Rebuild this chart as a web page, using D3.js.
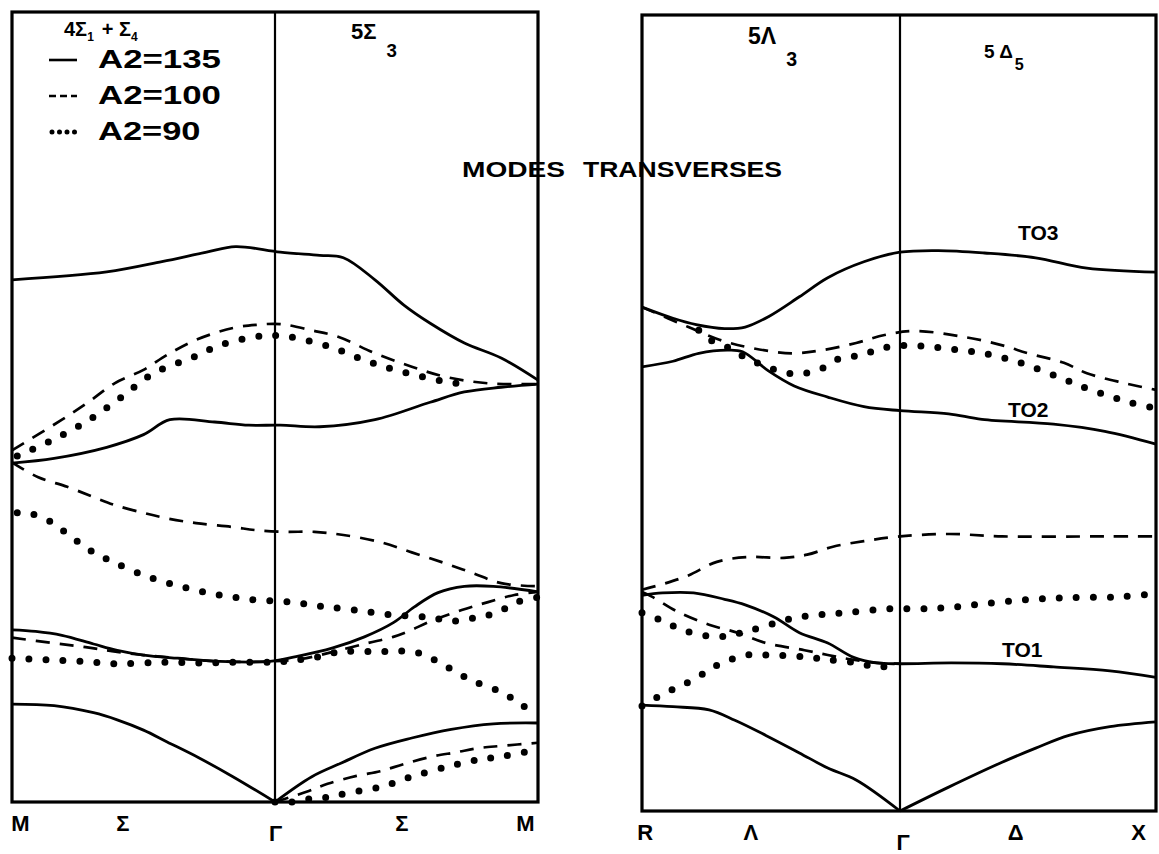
<!DOCTYPE html>
<html><head><meta charset="utf-8">
<script src="https://cdn.jsdelivr.net/npm/d3@7"></script>
<style>body{margin:0;background:#fff}svg{display:block}</style>
</head><body>
<svg id="c" width="1159" height="854"></svg>
<script>
// ---------- DATA (q: reduced wave vector along path, nu: frequency, arbitrary units 0-100) ----------
// Left panel: M – Σ – Γ – Σ – M
const sigmaTicks = [0.03, 0.42, 1.0, 1.48, 1.95];
const sigmaTickLabels = ["M", "Σ", "Γ", "Σ", "M"];
// A2 = 135 (solid)
const sigS1 = [[0,66.1],[0.36,67.1],[0.57,68.4],[0.74,69.6],[0.85,70.3],[1.02,69.6],[1.17,69.2],[1.26,68.9],[1.38,66.1],[1.49,62.9],[1.59,60.6],[1.72,58.1],[1.86,56.2],[2,53.4]];
const sigS2 = [[0,42.9],[0.16,43.5],[0.36,44.9],[0.50,46.5],[0.60,48.4],[0.77,48.1],[0.90,47.7],[1.02,47.7],[1.17,47.5],[1.38,48.4],[1.59,50.6],[1.72,51.9],[1.86,52.5],[2,52.9]];
const sigS3 = [[0,21.8],[0.09,21.6],[0.19,21.1],[0.31,20.0],[0.40,19.2],[0.50,18.6],[0.63,18.2],[0.79,17.8],[0.98,17.8],[1.08,18.4],[1.22,19.5],[1.34,20.9],[1.45,22.7],[1.53,24.7],[1.62,26.5],[1.72,27.3],[1.83,27.3],[2,26.6]];
const sigS4a = [[0,12.4],[0.16,12.2],[0.31,11.3],[0.40,10.4],[0.50,9.1],[0.59,7.6],[0.71,5.6],[0.84,3.2],[1,0]];
const sigS4b = [[1,0],[1.14,3.2],[1.25,4.9],[1.38,6.8],[1.52,8.1],[1.67,9.2],[1.83,9.9],[2,10.0]];
// A2 = 100 (dashed)
const sigD1 = [[0,44.5],[0.19,48.4],[0.29,50.6],[0.39,53.0],[0.50,54.7],[0.59,56.6],[0.70,58.5],[0.84,60.0],[0.93,60.4],[1.02,60.5],[1.14,59.7],[1.24,58.9],[1.38,56.8],[1.52,55.1],[1.65,53.8],[1.81,53.0],[2,52.9]];
const sigD2 = [[0,43.0],[0.10,41.1],[0.21,39.9],[0.31,38.6],[0.39,37.6],[0.50,36.6],[0.59,35.9],[0.70,35.3],[0.84,34.8],[0.93,34.4],[1.04,34.2],[1.15,34.2],[1.26,33.8],[1.40,32.9],[1.52,31.6],[1.64,30.3],[1.75,29.0],[1.86,27.7],[2,27.3]];
const sigD3 = [[0,20.8],[0.16,20.1],[0.28,19.6],[0.38,19.1],[0.50,18.6],[0.63,18.2],[0.79,17.8],[0.98,17.8],[1.10,18.1],[1.22,19.0],[1.35,20.1],[1.45,20.9],[1.50,21.5],[1.60,23.0],[1.71,24.3],[1.81,25.3],[1.91,26.2],[2,26.6]];
const sigD4 = [[1,0],[1.12,1.3],[1.20,2.3],[1.31,3.3],[1.40,3.9],[1.49,4.8],[1.59,5.7],[1.69,6.3],[1.77,6.8],[1.86,7.1],[2,7.5]];
// A2 = 90 (dotted)
const sigP1 = [[0.02,43.8],[0.14,45.6],[0.28,48.1],[0.41,51.1],[0.54,54.3],[0.69,56.3],[0.79,57.8],[0.95,59.0],[1.05,58.9],[1.21,57.6],[1.35,55.8],[1.49,54.4],[1.65,53.2],[1.75,52.8]];
const sigP2 = [[0.02,36.6],[0.07,36.5],[0.14,35.6],[0.20,34.2],[0.26,32.7],[0.32,31.4],[0.39,30.3],[0.51,28.6],[0.65,27.2],[0.79,26.2],[0.92,25.6],[1.06,25.3],[1.17,24.8],[1.30,24.3],[1.44,23.7],[1.58,23.4],[1.68,22.9],[1.77,23.4],[1.84,23.9],[1.92,25.3],[2,25.9]];
const sigP3 = [[0,18.2],[0.13,18.0],[0.26,17.8],[0.40,17.5],[0.57,17.7],[0.71,17.6],[0.85,17.7],[0.99,17.7],[1.09,18.0],[1.17,18.4],[1.24,19.0],[1.30,19.1],[1.39,19.0],[1.45,19.1],[1.53,19.0],[1.60,18.1],[1.67,16.8],[1.73,15.7],[1.79,14.8],[1.87,13.8],[1.94,12.2],[2,11.4]];
const sigP4 = [[1,0],[1.06,0],[1.13,0.4],[1.20,0.6],[1.27,1.1],[1.40,1.9],[1.52,3.2],[1.67,4.6],[1.78,5.4],[1.85,5.7],[1.95,6.3],[2,6.5]];

// Right panel: R – Λ – Γ – Δ – X
const lamTicks = [0.01, 0.42, 1.01, 1.45, 1.93];
const lamTickLabels = ["R", "Λ", "Γ", "Δ", "X"];
// A2 = 135 (solid)
const lamS1 = [[0,63.3],[0.12,61.9],[0.21,61.1],[0.32,60.6],[0.40,60.8],[0.49,62.1],[0.61,64.6],[0.72,67.0],[0.86,69.0],[1.0,70.2],[1.15,70.4],[1.33,70.1],[1.53,69.5],[1.73,68.2],[2,67.7]];
const lamS2 = [[0,55.8],[0.12,56.5],[0.22,57.5],[0.33,57.9],[0.39,57.7],[0.49,55.3],[0.59,53.4],[0.72,52.0],[0.86,50.8],[1.0,50.3],[1.19,49.9],[1.32,49.2],[1.60,48.6],[1.80,47.7],[2,46.1]];
const lamS3 = [[0,27.1],[0.08,27.4],[0.20,27.4],[0.32,26.6],[0.40,25.9],[0.51,24.4],[0.61,22.4],[0.72,21.1],[0.82,19.3],[0.91,18.6],[1.0,18.5],[1.20,18.6],[1.40,18.5],[1.60,18.1],[1.82,17.6],[2,16.8]];
const lamS4a = [[0,13.3],[0.12,13.1],[0.26,12.7],[0.36,11.4],[0.48,9.5],[0.61,7.3],[0.72,5.4],[0.83,3.9],[1,0]];
const lamS4b = [[1,0],[1.19,3.0],[1.39,6.0],[1.53,7.9],[1.66,9.5],[1.82,10.6],[2,11.2]];
// A2 = 100 (dashed)
const lamD1 = [[0,63.3],[0.18,60.8],[0.30,59.2],[0.42,58.2],[0.58,57.5],[0.70,57.9],[0.83,58.8],[0.94,59.8],[1.06,60.3],[1.26,59.5],[1.40,58.5],[1.50,57.5],[1.64,56.3],[1.73,55.0],[1.87,53.8],[2,52.9]];
const lamD2 = [[0,27.8],[0.09,28.6],[0.18,29.6],[0.29,31.3],[0.41,31.9],[0.55,31.8],[0.64,32.2],[0.74,33.2],[0.86,33.9],[1.0,34.5],[1.19,34.8],[1.40,34.5],[1.80,34.5],[2,34.5]];
const lamD3 = [[0,27.5],[0.04,26.9],[0.14,25.0],[0.26,23.4],[0.37,22.4],[0.48,21.1],[0.63,20.2],[0.72,19.6],[0.80,19.1],[0.91,18.6],[1.0,18.5]];
// A2 = 90 (dotted)
const lamP1 = [[0.22,60.4],[0.25,59.4],[0.33,58.3],[0.40,57.0],[0.51,55.5],[0.60,54.9],[0.69,55.5],[0.77,56.9],[0.84,57.2],[0.90,57.8],[0.97,58.4],[1.09,58.4],[1.21,58.0],[1.34,57.4],[1.48,56.2],[1.62,54.5],[1.73,53.1],[1.89,51.4],[2,50.6]];
const lamP2 = [[0,24.9],[0.07,24.0],[0.17,22.6],[0.30,21.9],[0.42,22.7],[0.57,24.1],[0.67,24.6],[0.79,24.9],[0.95,25.4],[1.10,25.4],[1.20,25.6],[1.32,26.0],[1.48,26.5],[1.65,26.8],[1.85,26.9],[2,27.3]];
const lamP3 = [[0,13.2],[0.10,15.0],[0.17,16.0],[0.25,17.5],[0.31,18.6],[0.41,19.6],[0.49,19.6],[0.57,19.5],[0.65,19.3],[0.72,19.0],[0.81,18.7],[0.92,18.1],[1.0,18.5]];

const legendLabels = ["A2=135", "A2=100", "A2=90"];
const legendStyles = ["solid", "dashed", "dotted"];
const titleWords = ["MODES", "TRANSVERSES"];
const branchLabels = ["TO3", "TO2", "TO1"];

// ---------- DRAWING ----------
const svg = d3.select("#c");
const FONT = "'Liberation Sans', Arial, Helvetica, sans-serif";

const styles = {
  solid:  {w: 2.8, dash: null, cap: "butt"},
  dashed: {w: 2.7, dash: "14 10", cap: "butt"},
  dotted: {w: 7,   dash: "0 17", cap: "round"}
};

function panel(cfg) {
  const x = d3.scaleLinear().domain([0, 1, 2]).range([cfg.x0, cfg.xg, cfg.x1]);
  const y = d3.scaleLinear().domain([0, 100]).range([cfg.bottom, cfg.top]);
  const g = svg.append("g");
  const line = d3.line().x(d => x(d[0])).y(d => y(d[1])).curve(d3.curveCatmullRom.alpha(0.5));

  g.append("rect").attr("x", x(0)).attr("y", y(100)).attr("width", x(2) - x(0)).attr("height", y(0) - y(100))
    .attr("fill", "none").attr("stroke", "#000").attr("stroke-width", 3.2);
  g.append("line").attr("x1", x(1)).attr("x2", x(1)).attr("y1", y(100)).attr("y2", y(0))
    .attr("stroke", "#000").attr("stroke-width", 2.2);

  cfg.series.forEach(s => {
    const st = styles[s.style];
    s.curves.forEach(c => {
      g.append("path").attr("d", line(c)).attr("fill", "none").attr("stroke", "#000")
        .attr("stroke-width", st.w).attr("stroke-linecap", st.cap)
        .attr("stroke-dasharray", st.dash);
    });
  });

  const ax = d3.axisBottom(x).tickValues(cfg.ticks).tickSize(0)
    .tickFormat((d, i) => cfg.tickLabels[i]);
  const axg = g.append("g").attr("transform", `translate(0,${cfg.bottom})`).call(ax);
  axg.select(".domain").remove();
  axg.selectAll("text").attr("font-family", FONT).attr("font-weight", "bold")
    .attr("font-size", 22).attr("fill", "#000")
    .attr("y", 0).attr("dy", (d, i) => cfg.tickLabels[i] === "Γ" ? "1.75em" : "1.3em");
  return {x, y, g};
}

panel({
  x0: 12, xg: 275, x1: 538, top: 12, bottom: 802,
  ticks: sigmaTicks, tickLabels: sigmaTickLabels,
  series: [
    {style: "solid", curves: [sigS1, sigS2, sigS3, sigS4a, sigS4b]},
    {style: "dashed", curves: [sigD1, sigD2, sigD3, sigD4]},
    {style: "dotted", curves: [sigP1, sigP2, sigP3, sigP4]}
  ]
});
panel({
  x0: 642, xg: 900, x1: 1156, top: 15, bottom: 811,
  ticks: lamTicks, tickLabels: lamTickLabels,
  series: [
    {style: "solid", curves: [lamS1, lamS2, lamS3, lamS4a, lamS4b]},
    {style: "dashed", curves: [lamD1, lamD2, lamD3]},
    {style: "dotted", curves: [lamP1, lamP2, lamP3]}
  ]
});

// legend
const lg = svg.append("g");
legendLabels.forEach((lab, i) => {
  const yy = 68 + i * 36;
  const kind = legendStyles[i];
  const st = styles[kind];
  lg.append("line").attr("x1", kind === "dotted" ? 52 : 49).attr("x2", 77)
    .attr("y1", yy - 8).attr("y2", yy - 8).attr("stroke", "#000")
    .attr("stroke-width", kind === "dotted" ? 5 : 2.6)
    .attr("stroke-linecap", st.cap)
    .attr("stroke-dasharray", kind === "dashed" ? "7 4" : (kind === "dotted" ? "0 7.5" : null));
  lg.append("text").attr("x", 98).attr("y", yy).text(lab)
    .attr("font-family", FONT).attr("font-weight", "bold").attr("font-size", 26)
    .attr("textLength", lab.length * 20.5).attr("lengthAdjust", "spacingAndGlyphs");
});

// annotations
function label(txt, sub, x, y, size, subDx, subDy) {
  const t = svg.append("text").attr("x", x).attr("y", y)
    .attr("font-family", FONT).attr("font-weight", "bold").attr("font-size", size);
  t.append("tspan").text(txt);
  if (sub) t.append("tspan").attr("dx", subDx).attr("dy", subDy).attr("font-size", size * 0.85).text(sub);
}
const t4 = svg.append("text").attr("x", 64).attr("y", 36).attr("font-family", FONT).attr("font-weight", "bold").attr("font-size", 20);
t4.append("tspan").text("4Σ");
t4.append("tspan").attr("dy", 5).attr("font-size", 12).text("1");
t4.append("tspan").attr("dy", -5).attr("dx", 8).text("+ Σ");
t4.append("tspan").attr("dy", 5).attr("font-size", 12).text("4");

label("5Σ", "3", 351, 39, 22, 10, 18);
label("5Λ", "3", 748, 44, 23, 10, 22);
label("5 Δ", "5", 984, 58, 19, 2, 12);

svg.append("text").attr("x", 462).attr("y", 177).text(titleWords[0])
  .attr("font-family", FONT).attr("font-weight", "bold").attr("font-size", 22)
  .attr("textLength", 103).attr("lengthAdjust", "spacingAndGlyphs");
svg.append("text").attr("x", 583).attr("y", 177).text(titleWords[1])
  .attr("font-family", FONT).attr("font-weight", "bold").attr("font-size", 22)
  .attr("textLength", 199).attr("lengthAdjust", "spacingAndGlyphs");

const branchPos = [[1018, 240], [1008, 417], [1002, 657]];
branchLabels.forEach((b, i) => {
  svg.append("text").attr("x", branchPos[i][0]).attr("y", branchPos[i][1]).text(b)
    .attr("font-family", FONT).attr("font-weight", "bold").attr("font-size", 21);
});
</script>
</body></html>
